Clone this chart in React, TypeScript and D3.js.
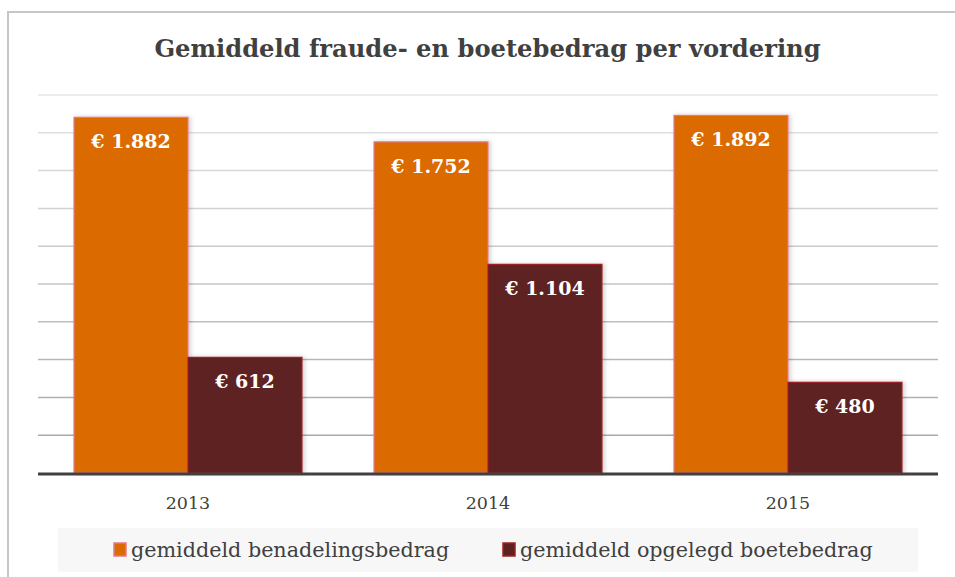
import React from 'react';
import * as d3 from 'd3';

const title = 'Gemiddeld fraude- en boetebedrag per vordering';
const years = ['2013', '2014', '2015'];
const seriesNames = ['gemiddeld benadelingsbedrag', 'gemiddeld opgelegd boetebedrag'];
const benadeling = [1882, 1752, 1892];
const boete = [612, 1104, 480];
const yTicks = [0, 200, 400, 600, 800, 1000, 1200, 1400, 1600, 1800, 2000];

const W = 955;
const H = 577;
const FONT = "'DejaVu Serif', 'Liberation Serif', serif";
const fills = ['#DB6A00', '#5F2120'];
const strokes = ['#E27A8E', '#A31F22'];

const nl = d3.formatLocale({ decimal: ',', thousands: '.', grouping: [3], currency: ['€ ', ''] });
const fmt = nl.format(',');

export default function App() {
  const plotLeft = 38;
  const plotRight = 938;
  const y0 = 473;
  const yTop = 95;
  const x0 = d3.scaleBand<string>().domain(years).range([plotLeft, plotRight]).padding(0);
  const x1 = d3.scaleBand<number>().domain([0, 1]).range([0, x0.bandwidth()]).paddingInner(0).paddingOuter(0.316);
  const y = d3.scaleLinear().domain([0, 2000]).range([y0, yTop]);
  const data = [benadeling, boete];
  const gridColor = d3.interpolateRgb('#e6e6e6', '#a2a2a2');

  return (
    <svg width={W} height={H} style={{ position: 'fixed', left: 0, top: 0, background: '#fff' }}>
      <defs>
        <filter id="sh" x="-10%" y="-10%" width="130%" height="120%">
          <feDropShadow dx="2" dy="0" stdDeviation="2" floodColor="#000" floodOpacity="0.18" />
        </filter>
      </defs>
      <rect x={8} y={12} width={1000} height={700} fill="#fff" stroke="#c6c6c6" strokeWidth={2} />
      <text x={W / 2 + 10} y={57} textAnchor="middle" fontFamily={FONT} fontWeight="bold" fontSize={24.2} fill="#404040">
        {title}
      </text>
      {yTicks.slice(1).map((t) => (
        <line key={t} x1={plotLeft} x2={plotRight} y1={y(t)} y2={y(t)}
          stroke={gridColor(1 - (t / 2000))} strokeWidth={1.5} />
      ))}
      {years.map((yr, i) => (
        <g key={yr} transform={`translate(${x0(yr)},0)`}>
          {data.map((s, si) => {
            const v = s[i];
            const bx = x1(si)!;
            const bw = x1.bandwidth();
            return (
              <g key={si}>
                <rect x={bx} y={y(v)} width={bw} height={y0 - y(v)} fill={fills[si]}
                  stroke={strokes[si]} strokeWidth={1.2} filter="url(#sh)" />
                <text x={bx + bw / 2} y={y(v) + 31} textAnchor="middle" fontFamily={FONT}
                  fontWeight="bold" fontSize={19} fill="#fff">
                  {'€ ' + fmt(v)}
                </text>
              </g>
            );
          })}
          <text x={x0.bandwidth() / 2} y={509} textAnchor="middle" fontFamily={FONT} fontSize={17.5} fill="#404040">
            {yr}
          </text>
        </g>
      ))}
      <line x1={plotLeft} x2={plotRight} y1={y0 + 1} y2={y0 + 1} stroke="#404040" strokeWidth={3} />
      <rect x={58} y={528} width={860} height={44} fill="#f7f7f7" />
      {seriesNames.map((n, i) => {
        const lx = [114, 503][i];
        return (
          <g key={n}>
            <rect x={lx} y={543} width={12} height={13} fill={fills[i]} stroke={strokes[i]} strokeWidth={1.5} />
            <text x={lx + 17} y={557} fontFamily={FONT} fontSize={20.7} fill="#404040">{n}</text>
          </g>
        );
      })}
    </svg>
  );
}
